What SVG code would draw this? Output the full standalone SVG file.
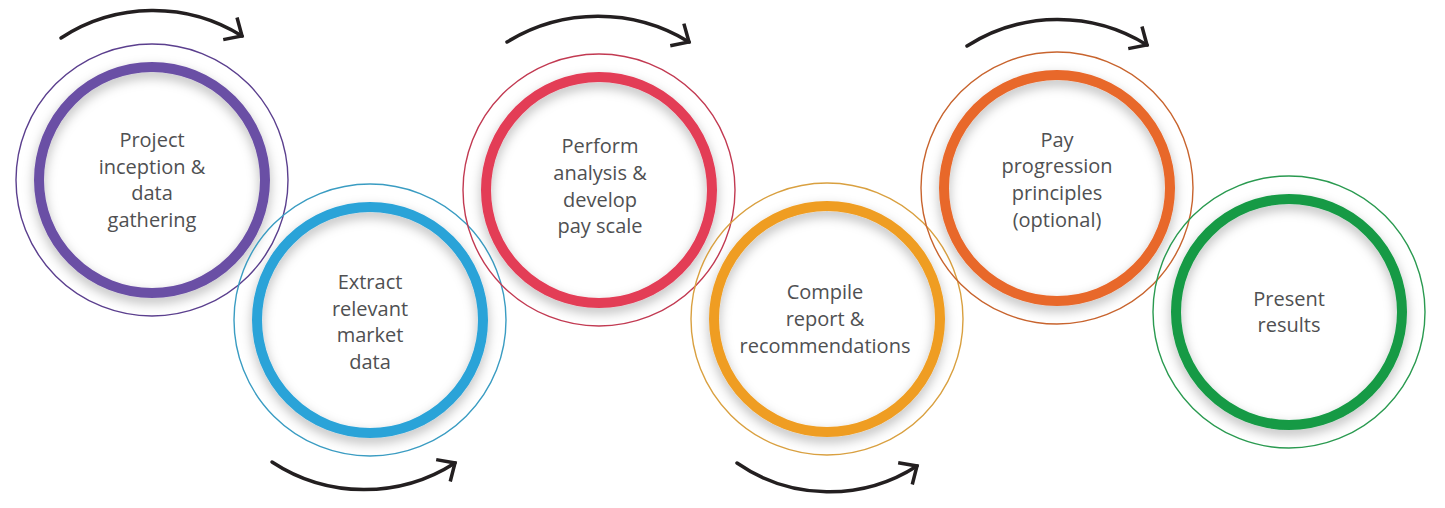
<svg xmlns="http://www.w3.org/2000/svg" width="1445" height="508" viewBox="0 0 1445 508">
<style>
.outer{fill:none;stroke-width:1.4}
.ring{fill:none;stroke-width:10;filter:url(#sh)}
.lbl{font-family:"Open Sans","Liberation Sans",sans-serif;font-size:20px;fill:#4f5052;text-anchor:middle}
.arc{fill:none;stroke:#231f20;stroke-width:3.5;stroke-linecap:round;marker-end:url(#ah)}
</style>
<defs>
<filter id="sh" x="-20%" y="-20%" width="140%" height="140%">
<feDropShadow dx="0" dy="5" stdDeviation="6" flood-color="#000" flood-opacity="0.28"/>
</filter>
<marker id="ah" markerUnits="userSpaceOnUse" orient="auto" markerWidth="40" markerHeight="40" refX="0" refY="0" viewBox="-20 -20 40 40" overflow="visible">
<path d="M-14,-13 L0,0 L-14,13" fill="none" stroke="#231f20" stroke-width="3.5" stroke-linecap="butt" stroke-linejoin="miter"/>
</marker>
</defs>
<rect width="1445" height="508" fill="#ffffff"/>
<g id="node1">
<circle class="outer" cx="152" cy="180" r="136" stroke="#5b3f8e"/>
<circle class="ring" cx="152" cy="180" r="113" stroke="#6b4fa5"/>
<text class="lbl" x="152" y="147">Project</text>
<text class="lbl" x="152" y="174">inception &amp;</text>
<text class="lbl" x="152" y="200">data</text>
<text class="lbl" x="152" y="227">gathering</text>
</g>
<g id="node2">
<circle class="outer" cx="370" cy="320" r="136" stroke="#3a9cc2"/>
<circle class="ring" cx="370" cy="320" r="113" stroke="#2ba3d8"/>
<text class="lbl" x="370" y="289">Extract</text>
<text class="lbl" x="370" y="316">relevant</text>
<text class="lbl" x="370" y="342">market</text>
<text class="lbl" x="370" y="369">data</text>
</g>
<g id="node3">
<circle class="outer" cx="599" cy="190" r="136" stroke="#c23a52"/>
<circle class="ring" cx="599" cy="190" r="113" stroke="#e33c57"/>
<text class="lbl" x="600" y="153">Perform</text>
<text class="lbl" x="600" y="180">analysis &amp;</text>
<text class="lbl" x="600" y="207">develop</text>
<text class="lbl" x="600" y="233">pay scale</text>
</g>
<g id="node4">
<circle class="outer" cx="827" cy="319" r="136" stroke="#d9a040"/>
<circle class="ring" cx="827" cy="319" r="113" stroke="#ef9d22"/>
<text class="lbl" x="825" y="299">Compile</text>
<text class="lbl" x="825" y="326">report &amp;</text>
<text class="lbl" x="825" y="353">recommendations</text>
</g>
<g id="node5">
<circle class="outer" cx="1057" cy="188" r="136" stroke="#c8642e"/>
<circle class="ring" cx="1057" cy="188" r="113" stroke="#e8672a"/>
<text class="lbl" x="1057" y="147">Pay</text>
<text class="lbl" x="1057" y="173">progression</text>
<text class="lbl" x="1057" y="200">principles</text>
<text class="lbl" x="1057" y="227">(optional)</text>
</g>
<g id="node6">
<circle class="outer" cx="1289" cy="312" r="136" stroke="#2a9a50"/>
<circle class="ring" cx="1289" cy="312" r="113" stroke="#149a45"/>
<text class="lbl" x="1289" y="306">Present</text>
<text class="lbl" x="1289" y="332">results</text>
</g>
<g id="connectors">
<path class="arc" d="M61,38 A168,168 0 0 1 242,36"/>
<path class="arc" d="M272,462 A168,168 0 0 0 455,463"/>
<path class="arc" d="M507,42 A174,174 0 0 1 689,42"/>
<path class="arc" d="M737,463 A162,162 0 0 0 917,466"/>
<path class="arc" d="M967,46 A169,169 0 0 1 1147,45"/>
</g>
</svg>
